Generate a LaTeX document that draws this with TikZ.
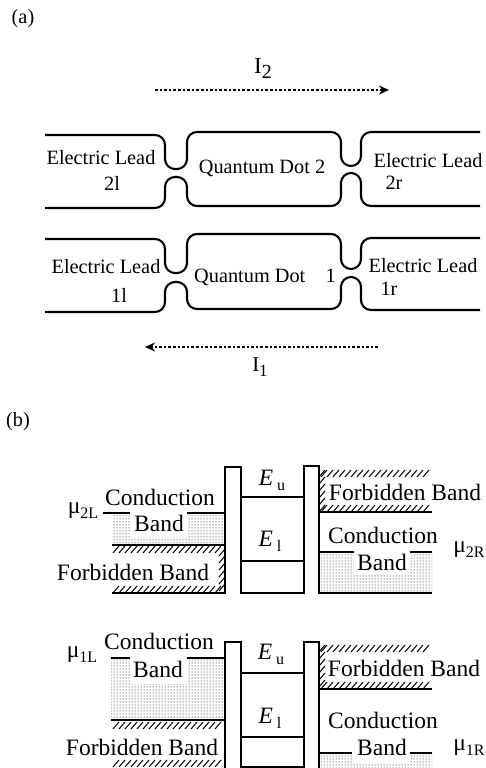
\documentclass[tikz,border=0pt]{standalone}
\usepackage{fontspec}
\setmainfont{Liberation Serif}
\usetikzlibrary{arrows.meta}
\usetikzlibrary{patterns}

\newcommand{\hatchrow}[4]{\foreach \hx in {#1,#2,...,#3} \draw[hatchline] (\hx,#4)--++(6,-7);}
\newcommand{\hatchcol}[4]{\foreach \hy in {#2,#3,...,#4} \draw[hatchline] (#1,\hy)--++(6,-7);}
\newcommand{\subtext}[2]{#1\raisebox{-5pt}{\fontsize{16}{16}\selectfont #2}}

\tikzset{
    leadline/.style={line width=2.1pt,rounded corners=10pt},
    bandline/.style={line width=1.9pt},
    hatchline/.style={line width=1pt},
    dotfill/.style={pattern=dots,pattern color=black},
    whitefill/.style={fill=white},
    leadlabel/.style={inner sep=0pt,font=\fontsize{20.3}{22}\selectfont},
    bandlabel/.style={inner sep=0pt,font=\fontsize{23.5}{25}\selectfont},
    current/.style={line width=2.6pt,dotted,-{Stealth[length=10pt,width=9pt]}},
}

\begin{document}
\begin{tikzpicture}[x=1pt,y=-1pt]%
    \useasboundingbox (0,0) rectangle (485,768);

    \node[leadlabel] (parta) at (23,19) {(a)};
    \node[leadlabel] (partb) at (18,422) {(b)};

    % currents
    \coordinate (i2start) at (155,90);
    \coordinate (i2end) at (389,90);
    \coordinate (i1start) at (378,347);
    \coordinate (i1end) at (145,347);
    \draw[current] (i2start)--(i2end);
    \draw[current] (i1start)--(i1end);
    \node[leadlabel,font=\fontsize{23}{24}\selectfont] (i2) at (263,68) {\subtext{I}{\fontsize{20}{20}\selectfont 2}};
    \node[leadlabel,font=\fontsize{21}{22}\selectfont] (i1) at (260,367) {\subtext{I}{\fontsize{17}{17}\selectfont 1}};

    % channel 2
    \draw[leadline] (45,135)--(165,135)--(165,169)--(187,169)--(187,132)--(341,132)--(341,166)--(361,166)--(361,132)--(480,132);
    \draw[leadline] (45,208)--(165,208)--(165,177)--(187,177)--(187,206)--(341,206)--(341,173)--(361,173)--(361,206)--(480,206);
    \node[leadlabel] (lead2l) at (101,158) {Electric Lead};
    \node[leadlabel] (num2l) at (112,183) {2l};
    \node[leadlabel] (dot2) at (262,168) {Quantum Dot 2};
    \node[leadlabel] (lead2r) at (428,161) {Electric Lead};
    \node[leadlabel] (num2r) at (394,183) {2r};

    % channel 1
    \draw[leadline] (45,239)--(165,239)--(165,273)--(187,273)--(187,234)--(341,234)--(341,269)--(361,269)--(361,238)--(480,238);
    \draw[leadline] (45,312)--(165,312)--(165,282)--(187,282)--(187,309)--(341,309)--(341,277)--(361,277)--(361,310)--(480,310);
    \node[leadlabel] (lead1l) at (106,267) {Electric Lead};
    \node[leadlabel] (num1l) at (119,295) {1l};
    \node[leadlabel] (dot1) at (265,277) {Quantum Dot\quad 1};
    \node[leadlabel] (lead1r) at (423,266) {Electric Lead};
    \node[leadlabel] (num1r) at (389,289) {1r};

    % upper band diagram
    \fill[dotfill] (112,513) rectangle (225,545);
    \fill[whitefill] (130,511) rectangle (187,537);
    \fill[dotfill] (321,552) rectangle (432,592);
    \fill[whitefill] (354,550) rectangle (410,574);
    \draw[bandline] (103,513)--(130,513);
    \draw[bandline] (187,513)--(225,513);
    \draw[bandline] (112,545)--(225,545);
    \draw[bandline] (112,593)--(225,593)--(225,467)--(241,467)--(241,593)--(304,593)--(304,466)--(319,466)--(319,593)--(432,593);
    \draw[bandline] (241,497)--(304,497);
    \draw[bandline] (241,561)--(304,561);
    \draw[bandline] (319,512)--(432,512);
    \draw[bandline] (319,552)--(354,552);
    \draw[bandline] (410,552)--(432,552);
    \hatchrow{113}{119}{218}{553}
    \hatchrow{113}{119}{218}{593}
    \hatchcol{219}{556}{563}{591}
    \hatchrow{321}{327}{426}{477}
    \hatchrow{321}{327}{426}{512}
    \hatchcol{319}{477}{484}{512}
    \node[bandlabel] (cond2l) at (160,497) {Conduction};
    \node[bandlabel] (band2l) at (159,523) {Band};
    \node[bandlabel] (forb2l) at (133,572) {Forbidden Band};
    \node[bandlabel] (forb2r) at (405,492) {Forbidden Band};
    \node[bandlabel] (cond2r) at (383,535) {Conduction};
    \node[bandlabel] (band2r) at (382,562) {Band};
    \node[bandlabel] (mu2l) at (83,511) {\subtext{μ}{2L}};
    \node[bandlabel] (mu2r) at (469,550) {\subtext{μ}{2R}};
    \node[bandlabel] (eu2) at (272,480) {\subtext{\textit{E}\,}{u}};
    \node[bandlabel] (el2) at (270,541) {\subtext{\textit{E}\,}{l}};

    % lower band diagram
    \fill[dotfill] (111,658) rectangle (225,720);
    \fill[whitefill] (130,656) rectangle (187,684);
    \fill[dotfill] (321,754) rectangle (432,768);
    \fill[whitefill] (352,752) rectangle (410,764);
    \draw[bandline] (111,658)--(130,658);
    \draw[bandline] (187,658)--(225,658);
    \draw[bandline] (111,720)--(225,720);
    \draw[bandline] (225,768)--(225,642)--(241,642)--(241,767)--(304,767)--(304,642)--(319,642)--(319,768);
    \draw[bandline] (241,673)--(304,673);
    \draw[bandline] (241,737)--(304,737);
    \draw[bandline] (319,689)--(432,689);
    \draw[bandline] (319,753)--(352,753);
    \draw[bandline] (410,753)--(432,753);
    \hatchrow{113}{119}{218}{729}
    \hatchrow{113}{119}{218}{767}
    \hatchrow{321}{327}{426}{652}
    \hatchrow{321}{327}{426}{689}
    \hatchcol{319}{652}{659}{689}
    \node[bandlabel] (cond1l) at (159,641) {Conduction};
    \node[bandlabel] (band1l) at (158,669) {Band};
    \node[bandlabel] (forb1l) at (142,747) {Forbidden Band};
    \node[bandlabel] (forb1r) at (404,668) {Forbidden Band};
    \node[bandlabel] (cond1r) at (383,720) {Conduction};
    \node[bandlabel] (band1r) at (382,747) {Band};
    \node[bandlabel] (mu1l) at (82,655) {\subtext{μ}{1L}};
    \node[bandlabel] (mu1r) at (469,748) {\subtext{μ}{1R}};
    \node[bandlabel] (eu1) at (271,654) {\subtext{\textit{E}\,}{u}};
    \node[bandlabel] (el1) at (270,718) {\subtext{\textit{E}\,}{l}};
\end{tikzpicture}
\end{document}
